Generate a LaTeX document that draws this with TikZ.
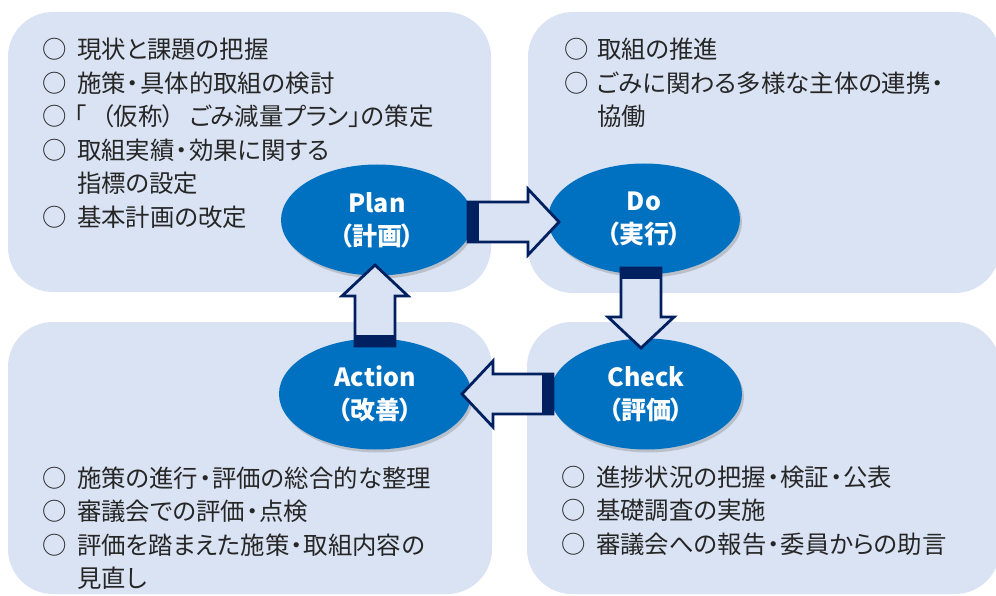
\documentclass[tikz,border=0pt]{standalone}
\usepackage{fontspec}
\setmainfont{Noto Sans CJK JP}[RawFeature=+palt]
\usetikzlibrary{shapes.geometric,shadows}
\definecolor{panelfill}{RGB}{218,227,243}
\definecolor{ellfill}{RGB}{0,112,192}
\definecolor{navy}{RGB}{0,32,96}
\definecolor{txt}{RGB}{38,38,38}
\newcommand{\nakaguro}{\kern1pt・\kern1pt}
\begin{document}
\begin{tikzpicture}[x=1pt,y=-1pt,
  panel/.style={fill=panelfill, rounded corners=45pt},
  phase/.style={ellipse, fill=ellfill, minimum width=192pt, minimum height=111pt,
    inner sep=0pt, text=white, font=\bfseries\fontsize{25}{33}\selectfont, align=center,
    drop shadow={shadow xshift=2pt, shadow yshift=-3pt, opacity=0.35}},
  item/.style={anchor=base west, inner sep=0pt, text=txt, font=\fontsize{24.4}{33}\selectfont},
  pics/blockarrow/.style={code={
    \filldraw[fill=panelfill, draw=navy, line width=2.8pt, line join=miter]
      (0,-20) -- ({#1-31},-20) -- ({#1-31},-33) -- (#1,0) -- ({#1-31},33) -- ({#1-31},20) -- (0,20) -- cycle;
    \fill[navy] (-1.4,-21.4) rectangle (11,21.4);
  }}
]
\useasboundingbox (0,0) rectangle (996,596);
\fill[white] (0,0) rectangle (996,596);

% panels
\fill[panel] (8,12) rectangle (491,292);
\fill[panel] (528,12) rectangle (1000,293);
\fill[panel] (8,322) rectangle (492,594);
\fill[panel] (527,322) rectangle (1000,594);

% top-left texts
\node[item] (tl1) at (42,59)    {\makebox[35pt][l]{○}現状と課題の把握};
\node[item] (tl2) at (42,92.5)  {\makebox[35pt][l]{○}施策\nakaguro 具体的取組の検討};
\node[item] (tl3) at (42,126)   {\makebox[32pt][l]{○}「\hspace{15pt}（仮称）\hspace{15pt}ごみ減量プラン」の策定};
\node[item] (tl4) at (42,159.5) {\makebox[35pt][l]{○}取組実績\nakaguro 効果に関する};
\node[item] (tl5) at (77,193)   {指標の設定};
\node[item] (tl6) at (42,226.5) {\makebox[35pt][l]{○}基本計画の改定};

% top-right texts
\node[item] (tr1) at (564,59)   {\makebox[33pt][l]{○}取組の推進};
\node[item] (tr2) at (564,92.5) {\makebox[33pt][l]{○}ごみに関わる多様な主体の連携\nakaguro};
\node[item] (tr3) at (597,126)  {協働};

% bottom-left texts
\node[item] (bl1) at (42,487)   {\makebox[35pt][l]{○}施策の進行\nakaguro 評価の総合的な整理};
\node[item] (bl2) at (42,520.5) {\makebox[35pt][l]{○}審議会での評価\nakaguro 点検};
\node[item] (bl3) at (42,554)   {\makebox[35pt][l]{○}評価を踏まえた施策\nakaguro 取組内容の};
\node[item] (bl4) at (77,587)   {見直し};

% bottom-right texts
\node[item] (br1) at (561,486)   {\makebox[35pt][l]{○}進捗状況の把握\nakaguro 検証\nakaguro 公表};
\node[item] (br2) at (561,519.5) {\makebox[35pt][l]{○}基礎調査の実施};
\node[item] (br3) at (561,553)   {\makebox[35pt][l]{○}審議会への報告\nakaguro 委員からの助言};

% phases
\node[phase] (plan)   at (377,220) {Plan\\（計画）};
\node[phase] (do)     at (644,219) {Do\\（実行）};
\node[phase] (check)  at (646,394) {Check\\（評価）};
\node[phase] (action) at (375,394) {Action\\（改善）};

% block arrows
\coordinate (pd) at (468,222);
\coordinate (dc) at (641,268);
\coordinate (ca) at (553,394);
\coordinate (ap) at (375,346);
\pic at (pd) {blockarrow=91};
\pic[rotate=-90] at (dc) {blockarrow=80};
\pic[rotate=180] at (ca) {blockarrow=91};
\pic[rotate=90] at (ap) {blockarrow=81};
\end{tikzpicture}
\end{document}
